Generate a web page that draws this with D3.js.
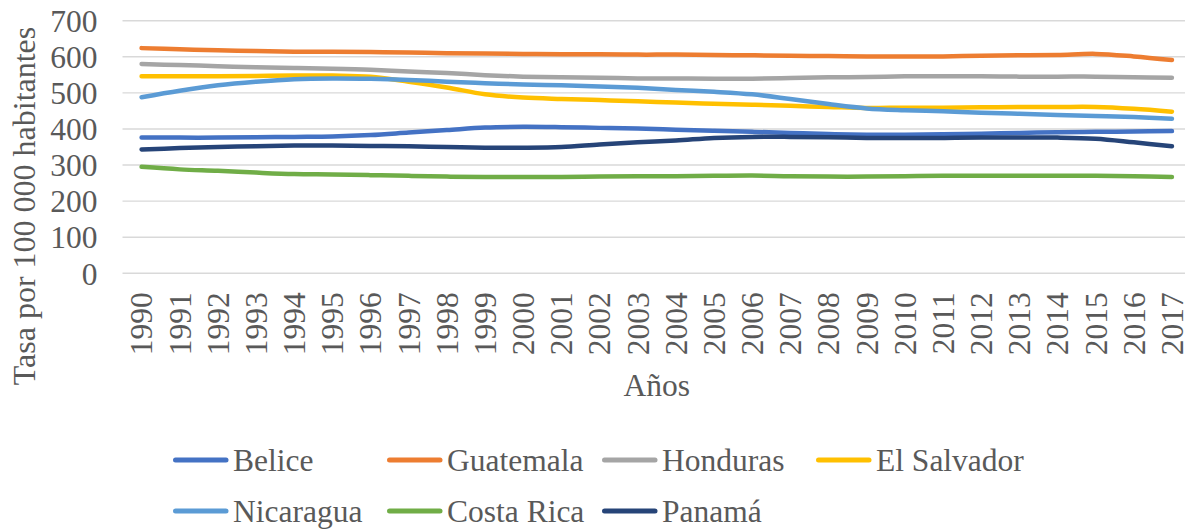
<!DOCTYPE html>
<html>
<head>
<meta charset="utf-8">
<script src="https://cdn.jsdelivr.net/npm/d3@7"></script>
<style>
  html, body { margin: 0; padding: 0; background: #ffffff; }
  svg { display: block; }
  svg text { font-family: "Liberation Serif", "Times New Roman", Tinos, "DejaVu Serif", serif !important; fill: #595959; }
</style>
</head>
<body>
<div id="chart"></div>
<script>
// ---- Data ----
const years = ["1990","1991","1992","1993","1994","1995","1996","1997","1998","1999",
               "2000","2001","2002","2003","2004","2005","2006","2007","2008","2009",
               "2010","2011","2012","2013","2014","2015","2016","2017"];
const seriesNames = ["Belice","Guatemala","Honduras","El Salvador","Nicaragua","Costa Rica","Panamá"];
const belice     = [376,376,376,377,378,379,383,390,397,404,406,405,403,401,398,395,392,389,386,384,384,385,387,389,391,392,393,394];
const guatemala  = [624,621,618,616,614,614,613,612,610,609,608,607,607,606,606,605,604,603,602,601,601,601,603,604,605,608,601,591];
const honduras   = [580,577,574,571,569,567,564,559,555,549,545,543,542,540,540,539,539,541,543,544,546,546,546,545,545,545,543,542];
const elSalvador = [546,546,546,547,548,548,545,531,515,496,487,483,480,477,473,470,467,464,461,458,459,459,460,461,461,461,456,448];
const nicaragua  = [488,506,521,531,538,540,539,536,531,527,523,521,518,514,508,503,496,483,469,457,452,449,445,442,439,436,433,428];
const costaRica  = [295,288,284,279,275,274,272,270,268,267,267,267,268,269,269,270,271,269,268,268,269,270,270,270,270,270,269,267];
const panama     = [343,347,350,352,354,354,353,352,350,348,348,350,357,363,368,375,378,378,377,375,375,375,376,376,376,373,363,352];
const yTicks = [0,100,200,300,400,500,600,700];
const xTitle = "Años";
const yTitle = "Tasa por 100 000 habitantes";

const seriesValues = [belice, guatemala, honduras, elSalvador, nicaragua, costaRica, panama];
const colors = ["#4472C4","#ED7D31","#A5A5A5","#FFC000","#5B9BD5","#70AD47","#264478"];

// ---- Layout ----
const W = 1185, H = 529;
const plotLeft = 122.5, plotRight = 1191, plotTop = 20.7, plotBottom = 273.3;
const fs = 31.5;

const svg = d3.select("#chart").append("svg")
  .attr("width", W).attr("height", H);

const x = d3.scalePoint().domain(years).range([plotLeft, plotRight]).padding(0.5);
const y = d3.scaleLinear().domain([0, 700]).range([plotBottom, plotTop]);

// gridlines
svg.append("g").selectAll("line").data(yTicks).join("line")
  .attr("x1", plotLeft).attr("x2", plotRight)
  .attr("y1", d => y(d)).attr("y2", d => y(d))
  .attr("stroke", "#D9D9D9").attr("stroke-width", 1.4);

// y axis labels
const yAxis = d3.axisLeft(y).tickValues(yTicks).tickSize(0).tickPadding(0).tickFormat(d3.format("d"));
const gy = svg.append("g").attr("transform", `translate(${plotLeft - 25},0)`).call(yAxis)
  .attr("font-family", null).attr("font-size", null);
gy.select(".domain").remove();
gy.selectAll("text").attr("font-size", fs).attr("fill", "#595959").attr("dy", "0.34em");

// x axis labels
const xAxis = d3.axisBottom(x).tickSize(0).tickPadding(0);
const gx = svg.append("g").attr("transform", `translate(0,${plotBottom})`).call(xAxis)
  .attr("font-family", null).attr("font-size", null);
gx.select(".domain").remove();
gx.selectAll("text")
  .attr("font-size", fs).attr("fill", "#595959")
  .attr("text-anchor", "end")
  .attr("transform", "rotate(-90)")
  .attr("x", -19).attr("y", 0).attr("dy", "0.33em");

// lines
const line = d3.line()
  .x((d, i) => x(years[i]))
  .y(d => y(d))
  .curve(d3.curveCatmullRom.alpha(0));

svg.append("g").selectAll("path").data(seriesValues).join("path")
  .attr("d", d => line(d))
  .attr("fill", "none")
  .attr("stroke", (d, i) => colors[i])
  .attr("stroke-width", 4.5)
  .attr("stroke-linecap", "round")
  .attr("stroke-linejoin", "round");

// axis titles
svg.append("text")
  .attr("x", (plotLeft + plotRight) / 2).attr("y", 396)
  .attr("text-anchor", "middle").attr("font-size", fs)
  .text(xTitle);

svg.append("text")
  .attr("transform", `translate(35,206) rotate(-90)`)
  .attr("text-anchor", "middle").attr("font-size", 32)
  .text(yTitle);

// legend
const colStarts = [173, 387, 602, 816];
const rowY = [460, 511];
const legend = svg.append("g").selectAll("g").data(seriesNames).join("g")
  .attr("transform", (d, i) => `translate(${colStarts[i % 4]},${rowY[Math.floor(i / 4)]})`);
legend.append("line")
  .attr("x1", 2.5).attr("x2", 53)
  .attr("y1", 0).attr("y2", 0)
  .attr("stroke", (d, i) => colors[i])
  .attr("stroke-width", 5)
  .attr("stroke-linecap", "round");
legend.append("text")
  .attr("x", 60).attr("y", 10.5)
  .attr("font-size", fs)
  .text(d => d);
</script>
</body>
</html>
